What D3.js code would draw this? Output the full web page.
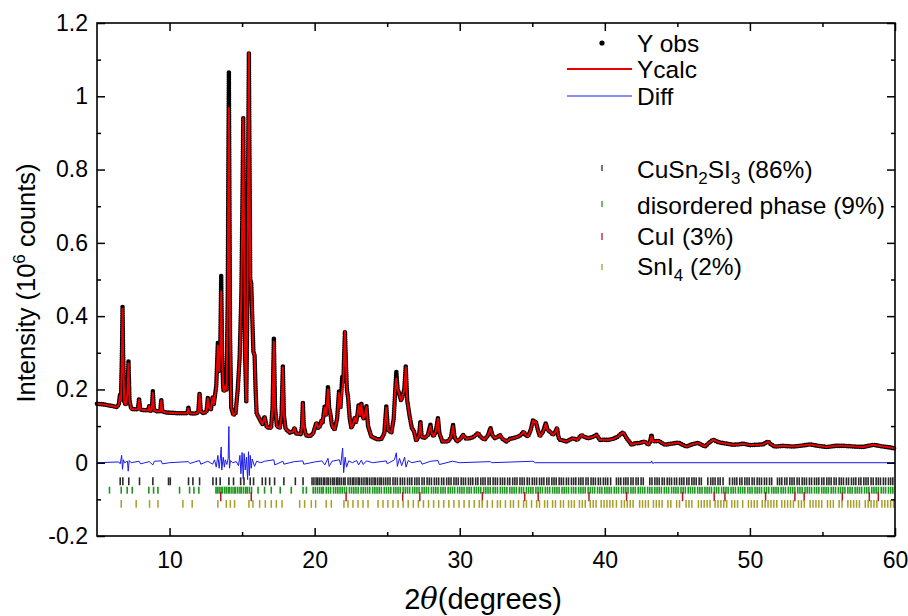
<!DOCTYPE html>
<html><head><meta charset="utf-8">
<script src="https://cdn.jsdelivr.net/npm/d3@7"></script>
<style>body{margin:0;background:#fff}svg{display:block}text{font-family:"Liberation Sans",Arial,sans-serif;fill:#000}</style>
</head><body><svg id="c" width="908" height="616"></svg>
<script>
// [2theta, Yobs, Ycalc] (10^6 counts)
const profile = [
[5.0,0.161,0.161],[5.5,0.159,0.159],[6.0,0.155,0.155],[6.35,0.152,0.152],[6.5,0.158,0.158],[6.58,0.185,0.182],[6.65,0.17,0.17],[6.72,0.30,0.29],[6.76,0.425,0.42],[6.80,0.30,0.30],[6.88,0.165,0.165],[6.98,0.158,0.158],[7.10,0.19,0.19],[7.17,0.278,0.27],[7.24,0.17,0.17],[7.35,0.148,0.148],[7.5,0.146,0.146],[7.82,0.146,0.146],[7.9,0.175,0.172],[7.98,0.145,0.145],[8.3,0.143,0.143],[8.52,0.143,0.143],[8.6,0.155,0.155],[8.68,0.14,0.14],[8.78,0.148,0.148],[8.85,0.195,0.19],[8.92,0.145,0.145],[9.1,0.14,0.14],[9.36,0.141,0.141],[9.43,0.172,0.17],[9.5,0.14,0.14],[9.8,0.137,0.137],[10.2,0.136,0.136],[10.6,0.135,0.135],[10.9,0.135,0.135],[11.22,0.135,0.135],[11.3,0.15,0.148],[11.38,0.135,0.135],[11.8,0.134,0.134],[11.98,0.138,0.138],[12.07,0.19,0.188],[12.15,0.14,0.14],[12.35,0.135,0.135],[12.55,0.14,0.14],[12.64,0.177,0.175],[12.72,0.15,0.15],[12.85,0.145,0.145],[12.97,0.18,0.178],[13.05,0.16,0.16],[13.12,0.18,0.18],[13.22,0.21,0.205],[13.33,0.327,0.32],[13.42,0.25,0.25],[13.5,0.32,0.31],[13.56,0.51,0.467],[13.62,0.30,0.30],[13.7,0.20,0.20],[13.76,0.195,0.195],[13.84,0.21,0.21],[13.93,0.20,0.20],[14.01,0.45,0.44],[14.06,0.85,0.82],[14.09,1.067,0.968],[14.12,0.80,0.80],[14.17,0.35,0.35],[14.25,0.15,0.15],[14.4,0.13,0.13],[14.55,0.135,0.135],[14.7,0.20,0.20],[14.83,0.286,0.28],[14.95,0.46,0.46],[15.02,0.70,0.70],[15.08,0.94,0.94],[15.14,0.60,0.60],[15.2,0.30,0.30],[15.29,0.167,0.167],[15.38,0.50,0.50],[15.44,0.95,0.95],[15.47,1.118,1.118],[15.5,0.90,0.90],[15.56,0.50,0.50],[15.63,0.49,0.49],[15.7,0.40,0.40],[15.78,0.30,0.30],[15.86,0.295,0.295],[15.93,0.20,0.20],[16.0,0.135,0.135],[16.2,0.12,0.12],[16.4,0.105,0.105],[16.55,0.126,0.124],[16.7,0.097,0.097],[17.0,0.095,0.095],[17.1,0.15,0.15],[17.19,0.34,0.33],[17.27,0.15,0.15],[17.4,0.10,0.10],[17.6,0.095,0.095],[17.72,0.13,0.13],[17.81,0.263,0.26],[17.88,0.13,0.13],[18.0,0.092,0.092],[18.28,0.082,0.082],[18.5,0.085,0.085],[18.62,0.095,0.095],[18.72,0.08,0.08],[19.05,0.078,0.078],[19.13,0.10,0.10],[19.19,0.165,0.162],[19.25,0.10,0.10],[19.4,0.075,0.075],[19.66,0.072,0.072],[19.9,0.08,0.08],[20.05,0.10,0.10],[20.12,0.109,0.109],[20.25,0.095,0.095],[20.38,0.10,0.10],[20.46,0.115,0.115],[20.55,0.11,0.11],[20.69,0.154,0.15],[20.8,0.13,0.13],[20.92,0.208,0.20],[21.0,0.15,0.15],[21.1,0.13,0.13],[21.2,0.10,0.10],[21.38,0.09,0.09],[21.55,0.12,0.12],[21.68,0.195,0.19],[21.78,0.15,0.15],[21.9,0.235,0.20],[21.98,0.22,0.22],[22.04,0.30,0.30],[22.09,0.358,0.358],[22.15,0.28,0.28],[22.22,0.20,0.20],[22.3,0.18,0.18],[22.42,0.12,0.12],[22.53,0.095,0.095],[22.65,0.105,0.105],[22.76,0.122,0.122],[22.85,0.11,0.11],[22.95,0.13,0.13],[23.03,0.158,0.155],[23.12,0.13,0.13],[23.22,0.163,0.16],[23.35,0.12,0.12],[23.48,0.13,0.13],[23.57,0.155,0.152],[23.68,0.10,0.10],[23.9,0.072,0.072],[24.1,0.068,0.068],[24.37,0.063,0.063],[24.6,0.065,0.065],[24.8,0.08,0.08],[24.94,0.154,0.15],[25.05,0.09,0.09],[25.29,0.082,0.082],[25.45,0.12,0.12],[25.56,0.20,0.20],[25.63,0.249,0.23],[25.72,0.20,0.20],[25.82,0.19,0.19],[25.95,0.17,0.17],[26.05,0.18,0.18],[26.18,0.20,0.20],[26.28,0.263,0.26],[26.38,0.17,0.17],[26.55,0.126,0.126],[26.7,0.095,0.095],[26.85,0.085,0.085],[27.0,0.06,0.06],[27.2,0.075,0.075],[27.29,0.113,0.11],[27.38,0.07,0.07],[27.59,0.068,0.068],[27.8,0.075,0.075],[27.98,0.104,0.10],[28.08,0.08,0.08],[28.2,0.072,0.072],[28.35,0.085,0.085],[28.5,0.122,0.12],[28.6,0.08,0.08],[28.8,0.058,0.058],[29.19,0.058,0.058],[29.4,0.07,0.07],[29.54,0.104,0.10],[29.64,0.07,0.07],[29.81,0.058,0.058],[30.05,0.065,0.065],[30.23,0.076,0.076],[30.45,0.065,0.065],[30.69,0.067,0.067],[30.95,0.07,0.07],[31.26,0.081,0.081],[31.45,0.07,0.07],[31.72,0.063,0.063],[31.95,0.075,0.075],[32.12,0.095,0.093],[32.25,0.075,0.075],[32.41,0.067,0.067],[32.6,0.07,0.07],[32.76,0.076,0.076],[32.95,0.065,0.065],[33.22,0.058,0.058],[33.45,0.065,0.065],[33.68,0.067,0.067],[33.95,0.07,0.07],[34.2,0.075,0.075],[34.41,0.085,0.085],[34.55,0.075,0.075],[34.71,0.072,0.072],[34.9,0.09,0.09],[35.06,0.117,0.115],[35.15,0.11,0.11],[35.24,0.113,0.113],[35.38,0.09,0.09],[35.52,0.072,0.072],[35.75,0.085,0.085],[35.93,0.108,0.106],[36.05,0.09,0.09],[36.21,0.085,0.085],[36.43,0.076,0.076],[36.6,0.085,0.085],[36.71,0.095,0.095],[36.8,0.07,0.07],[36.9,0.063,0.063],[37.36,0.058,0.058],[37.81,0.067,0.067],[38.1,0.062,0.062],[38.39,0.076,0.076],[38.6,0.07,0.07],[38.85,0.067,0.067],[39.15,0.07,0.07],[39.43,0.076,0.076],[39.66,0.062,0.062],[39.88,0.063,0.063],[40.2,0.062,0.062],[40.57,0.065,0.065],[40.85,0.07,0.07],[41.03,0.076,0.076],[41.26,0.083,0.083],[41.5,0.067,0.067],[41.84,0.049,0.049],[42.1,0.053,0.053],[42.41,0.054,0.054],[42.76,0.058,0.058],[42.99,0.049,0.049],[43.1,0.055,0.055],[43.22,0.076,0.072],[43.3,0.06,0.06],[43.45,0.058,0.058],[43.68,0.06,0.06],[44.14,0.049,0.049],[44.6,0.052,0.052],[45.06,0.055,0.055],[45.3,0.05,0.05],[45.63,0.044,0.044],[46.0,0.05,0.05],[46.43,0.054,0.054],[46.9,0.044,0.044],[47.2,0.055,0.055],[47.47,0.063,0.063],[47.7,0.058,0.058],[47.93,0.055,0.055],[48.4,0.052,0.052],[48.85,0.049,0.049],[49.2,0.05,0.05],[49.54,0.052,0.052],[50.0,0.048,0.048],[50.46,0.049,0.049],[50.9,0.05,0.05],[51.26,0.058,0.058],[51.45,0.05,0.05],[51.72,0.044,0.044],[52.3,0.046,0.046],[52.99,0.044,0.044],[53.6,0.047,0.047],[54.14,0.05,0.05],[54.7,0.046,0.046],[55.29,0.043,0.043],[55.9,0.046,0.046],[56.55,0.046,0.046],[57.2,0.044,0.044],[57.81,0.043,0.043],[58.5,0.049,0.049],[59.19,0.044,0.044],[59.6,0.042,0.042],[60.0,0.039,0.039]
];
// [2theta, Yobs - Ycalc]
const diff = [
[5,0],[6.5,0.002],[6.6,-0.003],[6.7,0.02],[6.76,-0.018],[6.82,0.008],[6.9,0],[7.1,0.004],[7.15,-0.023],[7.22,0.006],[7.35,0],[7.9,0.004],[8.0,-0.003],[8.6,0.003],[8.85,-0.006],[8.95,0.004],[9.43,0.005],[9.5,-0.003],[10,0],[11.3,0.003],[11.4,-0.002],[12.07,0.006],[12.15,-0.004],[12.64,0.004],[12.97,-0.004],[13.1,0.008],[13.22,-0.012],[13.33,0.02],[13.42,-0.015],[13.5,0.012],[13.56,0.043],[13.6,-0.02],[13.7,0.015],[13.78,-0.012],[13.84,0.008],[13.95,-0.005],[14.04,0.012],[14.09,0.099],[14.13,-0.015],[14.2,0.006],[14.35,0],[14.6,0.003],[14.75,-0.008],[14.85,0.02],[14.92,-0.03],[15.0,0.028],[15.08,-0.045],[15.14,0.025],[15.22,-0.02],[15.3,0.015],[15.38,-0.046],[15.44,0.03],[15.5,-0.035],[15.56,0.02],[15.63,-0.015],[15.7,0.01],[15.86,-0.01],[16.0,0.004],[16.3,0],[16.55,0.004],[17.19,0.008],[17.25,-0.006],[17.81,0.004],[17.88,-0.004],[18.6,0.003],[19.19,0.005],[19.25,-0.004],[20.0,0.002],[20.5,0.005],[20.7,-0.006],[20.92,0.012],[21.0,-0.01],[21.2,0.004],[21.7,0.008],[21.8,-0.006],[21.93,0.04],[22.0,-0.027],[22.1,0.015],[22.2,-0.012],[22.35,0.005],[22.6,0],[22.9,0.006],[23.03,-0.006],[23.22,0.007],[23.35,-0.005],[23.57,0.005],[24.0,0],[24.94,0.005],[25.0,-0.003],[25.5,0.008],[25.63,0.027],[25.7,-0.01],[25.85,0.012],[26.0,-0.008],[26.2,0.015],[26.3,-0.012],[26.45,0.006],[26.7,0],[27.3,0.005],[27.4,-0.004],[28.0,0.004],[28.5,0.006],[28.6,-0.005],[29.5,0.004],[30,0],[32.1,0.003],[32.2,0],[35.06,0.004],[35.2,0],[43.18,0],[43.22,0.005],[43.3,-0.002],[43.4,0],[60,0]
];
// Bragg reflection positions (2theta) for each phase
const reflCuSn2SI3 = [6.6,6.78,7.19,7.93,8.85,9.93,10.05,11.31,11.61,12.07,12.99,13.22,13.49,14.09,14.41,14.9,15.13,15.56,15.79,16.39,16.62,16.9,17.24,17.88,18.67,19.2,
19.82,19.95,20.1,20.2,20.32,20.45,20.6,20.7,20.85,20.95,21.1,21.25,21.35,21.5,21.6,21.72,21.85,22.0,22.1,22.3,22.45,22.6,22.7,22.85,23.0,23.1,23.25,23.4,23.55,23.65,23.8,23.95,24.1,24.2,24.35,24.5,24.6,24.75,24.9,
25.05,25.2,25.4,25.55,25.7,25.9,26.05,26.2,26.4,26.55,26.7,26.9,27.05,27.2,27.4,27.55,27.75,27.9,28.05,28.25,28.4,28.55,28.75,28.9,29.1,29.25,29.4,29.6,29.75,29.9,30.1,30.25,30.4,30.6,30.75,30.9,31.1,31.25,31.45,31.6,31.75,31.95,32.1,32.3,32.45,32.6,32.8,32.95,33.1,33.3,33.45,33.65,33.8,33.95,34.15,34.3,34.45,34.65,34.8,35.0,35.15,35.3,35.5,35.65,35.8,36.0,36.15,36.35,36.5,36.65,36.85,37.0,37.15,37.35,37.5,37.7,37.85,38.0,38.2,38.35,38.5,38.7,38.85,39.05,39.2,39.35,39.55,39.7,39.9,40.05,40.2,40.4,40.8,40.95,41.1,41.3,41.45,41.6,41.8,41.95,42.15,42.3,42.5,42.65,43.1,43.25,43.45,43.6,43.75,43.95,44.1,44.3,44.45,44.6,44.8,44.95,45.15,45.3,45.45,45.65,45.8,46.0,46.15,46.3,46.5,46.65,47.1,47.3,47.45,47.6,47.8,47.95,48.15,48.6,48.8,48.95,49.1,49.3,49.45,49.65,49.8,49.95,50.15,50.3,50.5,50.65,50.8,51.0,51.15,51.35,51.5,51.9,52.05,52.2,52.4,52.55,52.75,52.9,53.05,53.25,53.4,53.6,53.75,53.9,54.1,54.25,54.45,54.6,54.75,54.95,55.1,55.3,55.45,55.6,55.8,55.95,56.15,56.3,56.45,56.65,56.8,57.0,57.15,57.3,57.5,57.65,57.85,58.0,58.15,58.35,58.5,58.7,58.85,59.0,59.2,59.35,59.55,59.7,59.85];
const reflDisordered = [5.86,6.67,7.08,7.43,8.57,8.9,9.2,10.69,11.38,11.68,12.02,13.2,13.3,13.42,13.55,13.65,13.8,13.92,14.05,14.15,14.3,14.45,14.55,14.7,14.85,14.95,15.1,15.25,15.35,15.5,15.65,16.1,16.55,17.01,17.63,18.39,
19.2,19.43,19.9,20.05,20.2,20.35,20.5,20.6,20.8,20.95,21.1,21.3,21.45,21.6,21.75,21.9,22.05,22.2,22.4,22.55,22.7,22.85,23.0,23.2,23.35,23.5,23.65,23.8,24.0,24.15,24.3,24.45,24.6,24.8,24.95,25.1,25.25,25.45,25.6,25.75,25.9,26.1,26.25,26.4,26.55,26.75,26.9,27.05,27.2,27.4,27.55,27.7,27.85,28.05,28.2,28.35,28.5,28.7,28.85,29.0,29.2,29.35,29.5,29.65,29.85,30.0,30.15,30.3,30.5,30.65,30.8,31.0,31.15,31.3,31.45,31.65,31.8,31.95,32.1,32.3,32.45,32.6,32.8,32.95,33.1,33.25,33.45,33.6,33.75,33.9,34.1,34.25,34.4,34.6,34.75,34.9,35.05,35.25,35.4,35.55,35.7,35.9,36.05,36.2,36.4,36.55,36.7,36.85,37.05,37.2,37.35,37.5,37.7,37.85,38.0,38.2,38.35,38.5,38.65,38.85,39.0,39.15,39.3,39.5,39.65,39.8,40.0,40.15,40.3,40.45,40.65,40.8,40.95,41.15,41.3,41.45,41.6,41.8,41.95,42.1,42.3,42.45,42.6,42.75,42.95,43.1,43.25,43.45,43.6,43.75,43.9,44.1,44.25,44.4,44.6,44.75,44.9,45.05,45.25,45.4,45.55,45.75,45.9,46.05,46.2,46.4,46.55,46.7,46.9,47.05,47.2,47.35,47.55,47.7,47.85,48.05,48.2,48.35,48.5,48.7,48.85,49.0,49.2,49.35,49.5,49.65,49.85,50.0,50.15,50.35,50.5,50.65,50.8,51.0,51.15,51.3,51.5,51.65,51.8,51.95,52.15,52.3,52.45,52.65,52.8,52.95,53.1,53.3,53.45,53.6,53.8,53.95,54.1,54.25,54.45,54.6,54.75,54.95,55.1,55.25,55.4,55.6,55.75,55.9,56.1,56.25,56.4,56.55,56.75,56.9,57.05,57.25,57.4,57.55,57.7,57.9,58.05,58.2,58.4,58.55,58.7,58.85,59.05,59.2,59.35,59.55,59.7,59.85];
const reflCuI = [13.53,15.63,22.17,26.07,27.25,31.56,34.48,35.41,38.91,41.5,45.36,47.54,48.28,51.08,53.1,53.74,56.37,58.23,58.85];
const reflSnI4 = [6.67,7.7,8.62,9.2,10.92,11.56,13.33,13.91,14.19,14.48,15.47,15.75,16.21,16.6,17.01,17.36,17.75,18.97,19.31,19.77,20.07,20.8,21.15,22.02,22.3,22.64,22.99,23.33,23.68,24.37,24.71,
25.05,25.4,25.75,26.1,26.45,26.8,27.15,27.5,27.85,28.2,28.55,28.9,29.25,29.6,29.95,30.3,30.65,31.0,31.35,31.55,31.9,32.25,32.6,32.8,33.15,33.5,33.7,34.05,34.4,34.6,34.95,35.3,35.5,35.85,36.05,36.4,36.6,36.95,37.15,37.5,37.7,37.9,38.25,38.45,38.65,39.0,39.2,39.4,39.75,39.95,40.15,40.35,40.55,40.8,41.15,41.35,41.55,41.75,41.95,42.4,42.6,42.8,43.0,43.35,43.55,43.75,43.95,44.35,44.55,44.95,45.15,45.6,45.8,46.0,46.45,46.65,46.85,47.05,47.25,47.6,47.8,48.0,48.2,48.4,48.75,48.95,49.15,49.5,49.9,50.1,50.3,50.5,50.85,51.05,51.25,51.45,51.65,51.85,52.2,52.4,52.6,52.8,53.0,53.35,53.55,53.75,54.15,54.35,54.55,54.75,54.95,55.35,55.55,55.75,56.15,56.35,56.75,56.95,57.15,57.35,57.55,57.95,58.15,58.35,58.55,58.75,59.1,59.3,59.5,59.7,59.9];
const xTicks = [10,20,30,40,50,60];
const xMinorTicks = [15,25,35,45,55];
const yTicks = [-0.2,0,0.2,0.4,0.6,0.8,1.0,1.2];
const yTickLabels = ["-0.2","0","0.2","0.4","0.6","0.8","1","1.2"];
const yMinorTicks = [-0.1,0.1,0.3,0.5,0.7,0.9,1.1];
const legendLabels = ["Y obs","Ycalc","Diff"];

const svg = d3.select("#c");
const x = d3.scaleLinear().domain([5,60]).range([97,895]);
const y = d3.scaleLinear().domain([-0.2,1.2]).range([536,23]);
const FONT = '"Liberation Sans",Arial,sans-serif';

// data layers
svg.append("path").datum(profile)
  .attr("d", d3.line().x(d=>x(d[0])).y(d=>y(d[1])))
  .attr("fill","none").attr("stroke","#000").attr("stroke-width",4.6)
  .attr("stroke-linejoin","round").attr("stroke-linecap","round").attr("stroke-dasharray","0 2.2");
svg.append("path").datum(profile)
  .attr("d", d3.line().x(d=>x(d[0])).y(d=>y(d[2])))
  .attr("fill","none").attr("stroke","#ee0000").attr("stroke-width",2).attr("stroke-linejoin","round");
svg.append("path").datum(diff)
  .attr("d", d3.line().x(d=>x(d[0])).y(d=>y(d[1])))
  .attr("fill","none").attr("stroke","#1a1aee").attr("stroke-width",1);

// reflection markers
const rows = [
  {data:reflCuSn2SI3, c:"#2a2a2a", y0:-0.040, y1:-0.0615, w:1.6},
  {data:reflDisordered, c:"#1c961c", y0:-0.0655, y1:-0.0845, w:1.6},
  {data:reflCuI, c:"#b01828", y0:-0.080, y1:-0.105, w:1.5},
  {data:reflSnI4, c:"#a69e26", y0:-0.102, y1:-0.123, w:1.5}
];
rows.forEach(r=>{
  svg.append("g").selectAll("line").data(r.data).join("line")
    .attr("x1",d=>x(d)).attr("x2",d=>x(d)).attr("y1",y(r.y0)).attr("y2",y(r.y1))
    .attr("stroke",r.c).attr("stroke-width",r.w);
});

// axes
function style(sel){
  sel.select(".domain").remove();
  sel.selectAll(".tick line").attr("stroke","#000").attr("stroke-width",1.5);
  sel.selectAll(".tick text").attr("font-size",23).attr("font-family",FONT).attr("fill","#000");
}
svg.append("g").attr("transform",`translate(0,${y(-0.2)})`)
  .call(d3.axisBottom(x).tickValues(xTicks).tickSize(-8).tickPadding(16).tickFormat(d3.format("d"))).call(style);
svg.append("g").attr("transform",`translate(0,${y(-0.2)})`)
  .call(d3.axisBottom(x).tickValues(xMinorTicks).tickSize(-4).tickFormat("")).call(style);
svg.append("g").attr("transform",`translate(0,${y(1.2)})`)
  .call(d3.axisTop(x).tickValues(xTicks).tickSize(-8).tickFormat("")).call(style);
svg.append("g").attr("transform",`translate(0,${y(1.2)})`)
  .call(d3.axisTop(x).tickValues(xMinorTicks).tickSize(-4).tickFormat("")).call(style);
svg.append("g").attr("transform",`translate(${x(5)},0)`)
  .call(d3.axisLeft(y).tickValues(yTicks).tickSize(-8).tickPadding(9).tickFormat((d,i)=>yTickLabels[i])).call(style);
svg.append("g").attr("transform",`translate(${x(5)},0)`)
  .call(d3.axisLeft(y).tickValues(yMinorTicks).tickSize(-4).tickFormat("")).call(style);
svg.append("g").attr("transform",`translate(${x(60)},0)`)
  .call(d3.axisRight(y).tickValues(yTicks).tickSize(-8).tickFormat("")).call(style);
svg.append("g").attr("transform",`translate(${x(60)},0)`)
  .call(d3.axisRight(y).tickValues(yMinorTicks).tickSize(-4).tickFormat("")).call(style);
svg.append("rect").attr("x",x(5)).attr("y",y(1.2)).attr("width",x(60)-x(5)).attr("height",y(-0.2)-y(1.2))
  .attr("fill","none").attr("stroke","#000").attr("stroke-width",1.6);

// axis titles
const xt = svg.append("text").attr("x",483).attr("y",609).attr("text-anchor","middle").attr("font-size",29).attr("font-family",FONT);
xt.append("tspan").text("2");
xt.append("tspan").attr("font-style","italic").attr("font-family","'DejaVu Serif',serif").text("θ");
xt.append("tspan").text("(degrees)");
const yt = svg.append("text").attr("transform","translate(35,283) rotate(-90)").attr("text-anchor","middle").attr("font-size",25.5).attr("font-family",FONT);
yt.append("tspan").text("Intensity (10");
yt.append("tspan").attr("font-size",17).attr("dy",-10).text("6");
yt.append("tspan").attr("dy",10).text(" counts)");

// legend
const LF = 24.5, tx = 637;
const lg = svg.append("g").attr("font-family",FONT).attr("font-size",LF);
lg.append("circle").attr("cx",602).attr("cy",43).attr("r",2.6).attr("fill","#000");
lg.append("text").attr("x",tx).attr("y",52).text(legendLabels[0]);
lg.append("line").attr("x1",567).attr("x2",632).attr("y1",69).attr("y2",69).attr("stroke","#ee0000").attr("stroke-width",2);
lg.append("text").attr("x",tx).attr("y",78).text(legendLabels[1]);
lg.append("line").attr("x1",567).attr("x2",632).attr("y1",96).attr("y2",96).attr("stroke","#1a1aee").attr("stroke-width",1.2);
lg.append("text").attr("x",tx).attr("y",105).text(legendLabels[2]);
const sym = [[165,171,rows[0].c],[201,207,rows[1].c],[233,240,rows[2].c],[264,270,rows[3].c]];
sym.forEach(s=>lg.append("line").attr("x1",602).attr("x2",602).attr("y1",s[0]).attr("y2",s[1]).attr("stroke",s[2]).attr("stroke-width",1.3));
const t1 = lg.append("text").attr("x",tx).attr("y",178);
t1.append("tspan").text("CuSn");
t1.append("tspan").attr("font-size",17).attr("dy",6).text("2");
t1.append("tspan").attr("dy",-6).text("SI");
t1.append("tspan").attr("font-size",17).attr("dy",6).text("3");
t1.append("tspan").attr("dy",-6).text(" (86%)");
lg.append("text").attr("x",tx).attr("y",214).text("disordered phase (9%)");
lg.append("text").attr("x",tx).attr("y",245).text("CuI (3%)");
const t4 = lg.append("text").attr("x",tx).attr("y",275);
t4.append("tspan").text("SnI");
t4.append("tspan").attr("font-size",17).attr("dy",6).text("4");
t4.append("tspan").attr("dy",-6).text(" (2%)");
</script></body></html>
